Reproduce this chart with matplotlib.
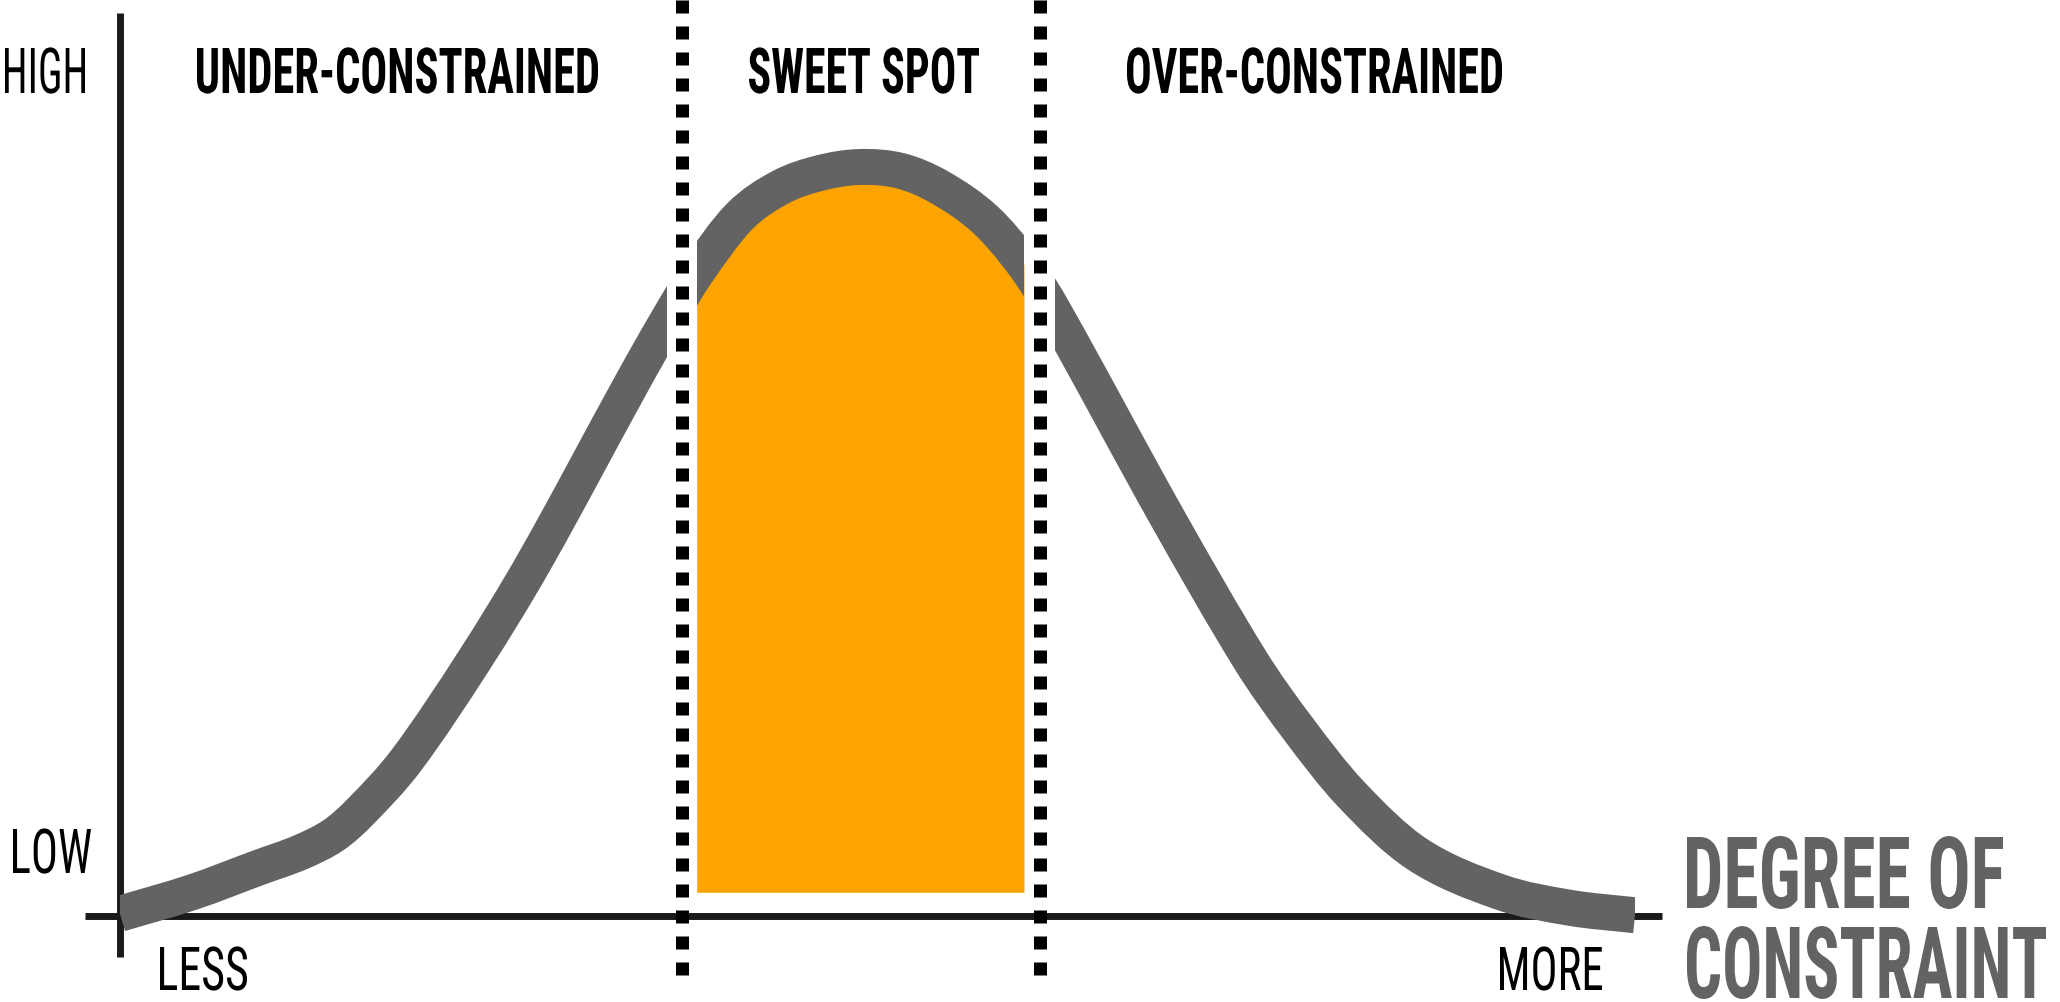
import matplotlib
matplotlib.use("Agg")
import matplotlib.pyplot as plt
import matplotlib.patheffects as pe
from matplotlib import font_manager
from matplotlib.font_manager import FontProperties
from matplotlib.patches import PathPatch, Rectangle
from matplotlib.path import Path
from matplotlib.textpath import TextPath
from matplotlib.transforms import Affine2D

# curve (x: degree of constraint 0..100, y: outcome 0..100)
curve_x = [0.0, 4.8, 9.2, 11.9, 14.1, 15.9, 18.9, 23.4, 27.4, 33.8, 36.1,
           38.1, 40.9, 43.6, 46.2, 48.8, 51.5, 54.1, 57.1, 59.7,
           61.7, 69.1, 74.6, 77.7, 81.2, 85.6, 91.1, 95.7, 100.0]
curve_y = [0.3, 3.2, 6.5, 8.5, 10.8, 14.0, 20.8, 34.2, 47.5, 71.2, 79.4,
           86.0, 93.4, 97.3, 99.2, 100.0, 99.5, 97.3, 93.0, 86.9,
           80.5, 53.3, 34.2, 25.2, 16.4, 8.3, 3.2, 1.1, 0.1]

zone_edges = [0.0, 37.1, 60.7, 100.0]      # dotted lines sit on the inner edges
zone_labels = ["UNDER-CONSTRAINED", "SWEET SPOT", "OVER-CONSTRAINED"]
sweet_base = 3.1                            # bottom of the orange block

GRAY = "#636363"
ORANGE = "#FDA400"
INK = "#1a1a1a"
W, H, DPI = 2060, 1002, 100

names = {f.name for f in font_manager.fontManager.ttflist}
FONT = next(n for n in ["Roboto Condensed", "Liberation Sans Narrow", "Roboto", "DejaVu Sans"]
            if n in names)


class Stretch(pe.AbstractPathEffect):
    # make the glyphs taller about the baseline, like a condensed display face
    def __init__(self, sy):
        super().__init__()
        self.sy = sy

    def draw_path(self, renderer, gc, tpath, affine, rgbFace=None):
        y0 = affine.get_matrix()[1, 2]
        aff = affine + Affine2D().translate(0, -y0).scale(1, self.sy).translate(0, y0)
        renderer.draw_path(gc, tpath, aff, rgbFace)


def label(s, left, right, bottom, cap, weight="normal", color="black"):
    # left/right/bottom/cap in pixels of the picture, bottom = baseline
    fp = FontProperties(family=FONT, weight=weight)
    cap1 = TextPath((0, 0), "H", size=100, prop=fp).get_extents().y1 / 100
    ext1 = TextPath((0, 0), s, size=100, prop=fp).get_extents()
    size_px = min((right - left) / (ext1.width / 100), cap / cap1)
    sy = cap / (cap1 * size_px)
    x0 = left - ext1.x0 / 100 * size_px
    t = fig.text(x0 / W, 1 - bottom / H, s, fontproperties=fp,
                 fontsize=size_px * 72 / DPI, color=color, ha="left", va="baseline")
    t.set_path_effects([Stretch(sy)])


def curve_path(i0, i1, base=None):
    # smooth cubic path through the read points i0..i1 (slopes from neighbours)
    n = len(curve_x)
    m = []
    for i in range(n):
        a, b = max(i - 1, 0), min(i + 1, n - 1)
        m.append((curve_y[b] - curve_y[a]) / (curve_x[b] - curve_x[a]))
    verts, codes = [], []
    if base is not None:
        verts += [(curve_x[i0], base)]
        codes += [Path.MOVETO]
    verts += [(curve_x[i0], curve_y[i0])]
    codes += [Path.LINETO if base is not None else Path.MOVETO]
    for i in range(i0, i1):
        h = curve_x[i + 1] - curve_x[i]
        verts += [(curve_x[i] + h / 3, curve_y[i] + m[i] * h / 3),
                  (curve_x[i + 1] - h / 3, curve_y[i + 1] - m[i + 1] * h / 3),
                  (curve_x[i + 1], curve_y[i + 1])]
        codes += [Path.CURVE4] * 3
    if base is not None:
        verts += [(curve_x[i1], base), (curve_x[i0], base)]
        codes += [Path.LINETO, Path.CLOSEPOLY]
    return Path(verts, codes)


fig = plt.figure(figsize=(W / DPI, H / DPI), dpi=DPI)
ax = fig.add_axes([0, 0, 1, 1])
ax.set_xlim(-7.92, 128.05)
ax.set_ylim(-11.48, 122.3)
ax.axis("off")

# axes drawn as plain strokes, crossing at the origin
ax.plot([0, 0], [-5.5, 120.6], color=INK, lw=5, solid_capstyle="butt", zorder=1)
ax.plot([-2.3, 101.8], [0, 0], color=INK, lw=5, solid_capstyle="butt", zorder=1)

# sweet spot block under the middle part of the curve
gap = 1.0
lo, hi = zone_edges[1] + gap, zone_edges[2] - gap
mid = [i for i, x in enumerate(curve_x) if lo - 1e-9 <= x <= hi + 1e-9]
ax.add_patch(PathPatch(curve_path(mid[0], mid[-1], base=sweet_base),
                       facecolor=ORANGE, edgecolor="none", zorder=2))

# the curve in three pieces with a white gap round each dotted line
spans = [(zone_edges[0], zone_edges[1] - gap), (lo, hi), (zone_edges[2] + gap, zone_edges[3])]
for a, b in spans:
    p = PathPatch(curve_path(0, len(curve_x) - 1), facecolor="none", edgecolor=GRAY,
                  lw=25.9, capstyle="butt", joinstyle="round", zorder=3)
    ax.add_patch(p)
    p.set_clip_path(Rectangle((a, -20), b - a, 160, transform=ax.transData))

for xe in zone_edges[1:3]:
    ax.axvline(xe, ymin=0.027, ymax=1.0, color="black", lw=9.36,
               linestyle=(0, (1, 1)), zorder=4)

# zone titles
label(zone_labels[0], 197, 598, 93, 45, weight="heavy")
label(zone_labels[1], 749, 979, 93, 45, weight="heavy")
label(zone_labels[2], 1127, 1502, 93, 45, weight="heavy")

# axis words
label("HIGH", 5, 85, 93, 45)
label("LOW", 13, 91, 873, 44)
label("LESS", 160, 247, 990, 43)
label("MORE", 1500, 1602, 990, 43)
label("DEGREE OF", 1687, 2003, 908, 71, weight="heavy", color=GRAY)
label("CONSTRAINT", 1687, 2046, 998, 71, weight="heavy", color=GRAY)

fig.savefig("out.png", dpi=DPI, facecolor="white")
